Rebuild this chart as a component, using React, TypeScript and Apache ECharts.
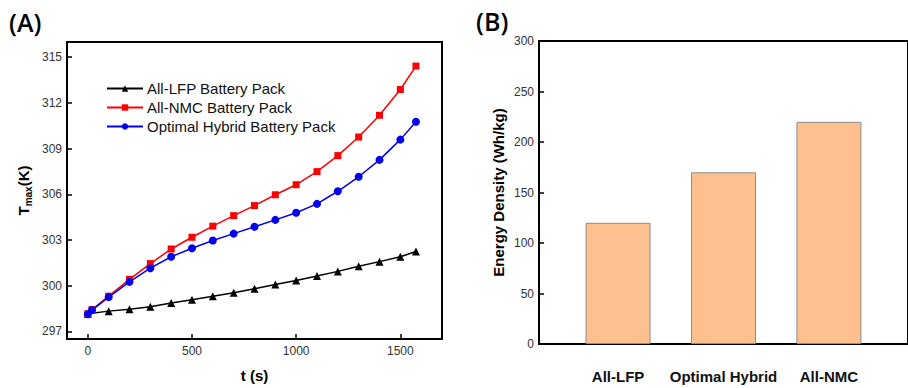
import React, { useEffect, useRef } from "react";
import * as echarts from "echarts";

const lfpTime = [0, 100, 200, 300, 400, 500, 600, 700, 800, 900, 1000, 1100, 1200, 1300, 1400, 1500, 1575];
const lfpTemp = [298.16, 298.33, 298.45, 298.62, 298.86, 299.07, 299.31, 299.54, 299.8, 300.08, 300.34, 300.64, 300.94, 301.28, 301.58, 301.9, 302.24];
const nmcTime = [0, 20, 100, 200, 300, 400, 500, 600, 700, 800, 900, 1000, 1100, 1200, 1300, 1400, 1500, 1575];
const nmcTemp = [298.16, 298.43, 299.31, 300.42, 301.45, 302.41, 303.18, 303.91, 304.6, 305.26, 305.97, 306.63, 307.49, 308.54, 309.76, 311.19, 312.88, 314.42];
const hybridTime = [0, 20, 100, 200, 300, 400, 500, 600, 700, 800, 900, 1000, 1100, 1200, 1300, 1400, 1500, 1575];
const hybridTemp = [298.13, 298.4, 299.25, 300.25, 301.15, 301.9, 302.46, 302.97, 303.42, 303.87, 304.32, 304.79, 305.37, 306.2, 307.15, 308.26, 309.59, 310.76];
const seriesNames = ["All-LFP Battery Pack", "All-NMC Battery Pack", "Optimal Hybrid Battery Pack"];
const timeTicks = [0, 500, 1000, 1500];
const tempTicks = [297, 300, 303, 306, 309, 312, 315];

const barCategories = ["All-LFP", "Optimal Hybrid", "All-NMC"];
const barValues = [120, 170, 220];

const FONT = "'Liberation Sans', Arial, sans-serif";

const pairs = (xs: number[], ys: number[]) => xs.map((x, i) => [x, ys[i]]);

export default function App() {
  const ref = useRef<HTMLDivElement>(null);
  useEffect(() => {
    if (!ref.current) return;
    const chart = echarts.init(ref.current, undefined, { renderer: "svg" });
    const axisLine = { show: true, onZero: false, lineStyle: { color: "#000", width: 2 } };
    const tickStyle = { lineStyle: { color: "#000", width: 1.5 } };
    chart.setOption({
      animation: false,
      backgroundColor: "#fff",
      textStyle: { fontFamily: FONT },
      grid: [
        { left: 67, top: 42, width: 375, height: 302, show: true, borderColor: "#000", borderWidth: 2, containLabel: false },
        { left: 539, top: 41, width: 378, height: 303, show: true, borderColor: "#000", borderWidth: 2, containLabel: false },
      ],
      graphic: [
        { type: "text", left: 9, top: 9, style: { text: "(A)", fontFamily: "'Open Sans', sans-serif", fontWeight: 600, fontSize: 25, fill: "#000" } },
        { type: "text", left: 476, top: 8, style: { text: "(B)", fontFamily: "'Open Sans', sans-serif", fontWeight: 600, fontSize: 25, fill: "#000" } },
      ],
      legend: {
        orient: "vertical",
        left: 101,
        top: 76,
        itemWidth: 36,
        itemHeight: 8,
        itemGap: 4,
        data: seriesNames,
        textStyle: { fontFamily: FONT, fontSize: 15, color: "#111", padding: [0, 0, 0, -1] },
      },
      xAxis: [
        {
          type: "value",
          gridIndex: 0,
          min: -100,
          max: 1700,
          name: "t (s)",
          nameLocation: "middle",
          nameGap: 29,
          nameTextStyle: { fontFamily: FONT, fontSize: 15, fontWeight: "bold", color: "#000" },
          axisLine,
          axisTick: { show: true, inside: true, length: 5, customValues: timeTicks, ...tickStyle },
          axisLabel: { customValues: timeTicks, formatter: (v: number) => String(v), margin: 6, fontSize: 12, color: "#333", fontFamily: FONT },
          splitLine: { show: false },
        },
        {
          type: "value",
          gridIndex: 1,
          min: 0.25,
          max: 3.75,
          axisLine,
          axisTick: { show: false },
          axisLabel: {
            customValues: barCategories.map((_, i) => i + 1),
            formatter: (v: number) => barCategories[Math.round(v) - 1] ?? "",
            margin: 25,
            fontSize: 15,
            fontWeight: "bold",
            color: "#111",
            fontFamily: FONT,
          },
          splitLine: { show: false },
        },
      ],
      yAxis: [
        {
          type: "value",
          gridIndex: 0,
          min: 296.5,
          max: 316,
          name: "{a|T}{b|max}{a|(K)}",
          nameLocation: "middle",
          nameGap: 34,
          nameTextStyle: {
            rich: {
              a: { fontFamily: FONT, fontSize: 15, fontWeight: "bold", color: "#000", lineHeight: 20 },
              b: { fontFamily: FONT, fontSize: 10, fontWeight: "bold", color: "#000", lineHeight: 12, verticalAlign: "bottom" },
            },
          },
          axisLine,
          axisTick: { show: true, inside: true, length: 5, customValues: tempTicks, ...tickStyle },
          axisLabel: { customValues: tempTicks, formatter: (v: number) => String(v), margin: 5, fontSize: 12, color: "#333", fontFamily: FONT },
          splitLine: { show: false },
        },
        {
          type: "value",
          gridIndex: 1,
          min: 0,
          max: 300,
          interval: 50,
          name: "Energy Density (Wh/kg)",
          nameLocation: "middle",
          nameGap: 33,
          nameTextStyle: { fontFamily: FONT, fontSize: 15, fontWeight: "bold", color: "#000" },
          axisLine,
          axisTick: { show: true, inside: true, length: 5, ...tickStyle },
          axisLabel: { margin: 5, fontSize: 12, color: "#333", fontFamily: FONT },
          splitLine: { show: false },
        },
      ],
      series: [
        {
          name: seriesNames[0],
          type: "line",
          xAxisIndex: 0,
          yAxisIndex: 0,
          data: pairs(lfpTime, lfpTemp),
          symbol: "triangle",
          symbolSize: 8,
          showAllSymbol: true,
          lineStyle: { color: "#000", width: 1.5 },
          itemStyle: { color: "#000" },
          z: 2,
        },
        {
          name: seriesNames[1],
          type: "line",
          xAxisIndex: 0,
          yAxisIndex: 0,
          data: pairs(nmcTime, nmcTemp),
          symbol: "rect",
          symbolSize: 7,
          showAllSymbol: true,
          lineStyle: { color: "#ff0000", width: 1.5 },
          itemStyle: { color: "#ff0000" },
          z: 3,
        },
        {
          name: seriesNames[2],
          type: "line",
          xAxisIndex: 0,
          yAxisIndex: 0,
          data: pairs(hybridTime, hybridTemp),
          symbol: "circle",
          symbolSize: 8,
          showAllSymbol: true,
          lineStyle: { color: "#0000ee", width: 1.5 },
          itemStyle: { color: "#0000ee" },
          z: 4,
        },
        {
          name: "Energy Density",
          type: "bar",
          xAxisIndex: 1,
          yAxisIndex: 1,
          data: barValues.map((v, i) => [i + 1, v]),
          barWidth: 65,
          itemStyle: { color: "#ffc08f", borderColor: "#8c8c8c", borderWidth: 1 },
        },
      ],
    });
    return () => chart.dispose();
  }, []);
  return (
    <div
      ref={ref}
      style={{ position: "fixed", left: 0, top: 0, width: 908, height: 388, background: "#fff" }}
    />
  );
}
